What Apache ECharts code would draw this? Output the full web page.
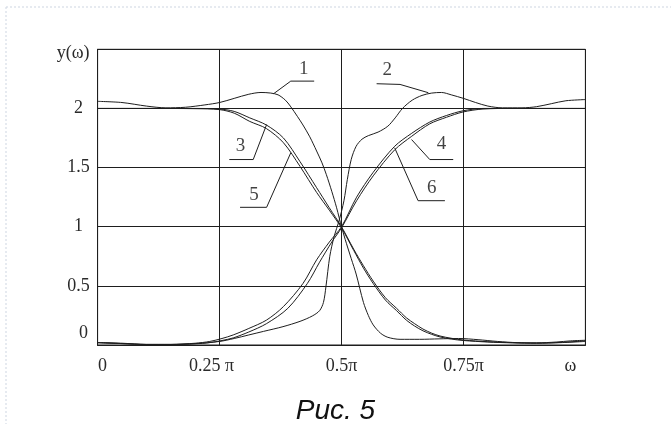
<!DOCTYPE html>
<html>
<head>
<meta charset="utf-8">
<script src="https://cdn.jsdelivr.net/npm/echarts@6/dist/echarts.min.js"></script>
<style>
html,body{margin:0;padding:0;background:#fff;}
#c{width:671px;height:424px;}
</style>
</head>
<body>
<div id="c"></div>
<script>
// x in units of pi, y = y(omega)
const xTickValues = [0, 0.25, 0.5, 0.75, 1];
const xTickLabels = ['0', '0.25 π', '0.5π', '0.75π', 'ω'];
const yTickValues = [0, 0.5, 1, 1.5, 2, 2.5];
const yTickLabels = ['0', '0.5', '1', '1.5', '2', ''];

const curve1 = [[0,2.06],[0.05,2.05],[0.1,2.02],[0.14,2.005],[0.18,2.01],[0.22,2.03],[0.25,2.05],[0.28,2.085],[0.31,2.12],[0.335,2.135],[0.355,2.13],[0.37,2.115],[0.385,2.07],[0.395,2.02],[0.41,1.93],[0.421,1.86],[0.435,1.76],[0.449,1.64],[0.46,1.54],[0.469,1.44],[0.48,1.3],[0.49,1.16],[0.5,1.0],[0.51,0.86],[0.52,0.73],[0.53,0.6],[0.545,0.36],[0.555,0.25],[0.565,0.17],[0.58,0.1],[0.595,0.065],[0.62,0.048],[0.66,0.048],[0.7,0.052],[0.74,0.055],[0.78,0.045],[0.82,0.03],[0.86,0.02],[0.9,0.018],[0.94,0.025],[0.97,0.035],[1,0.04]];
const curve2 = [[0,0.02],[0.05,0.015],[0.1,0.005],[0.15,0.005],[0.2,0.012],[0.25,0.03],[0.28,0.055],[0.31,0.085],[0.34,0.115],[0.38,0.155],[0.415,0.2],[0.44,0.245],[0.455,0.29],[0.463,0.36],[0.468,0.49],[0.476,0.75],[0.485,0.92],[0.495,1.05],[0.505,1.22],[0.512,1.4],[0.52,1.57],[0.53,1.68],[0.542,1.74],[0.555,1.77],[0.575,1.8],[0.595,1.85],[0.61,1.92],[0.625,2.0],[0.645,2.07],[0.665,2.11],[0.685,2.13],[0.705,2.135],[0.725,2.115],[0.75,2.085],[0.775,2.05],[0.8,2.02],[0.83,2.005],[0.87,2.005],[0.9,2.015],[0.93,2.04],[0.96,2.065],[1,2.075]];
const curve3 = [[0,2.0],[0.1,2.0],[0.2,2.0],[0.25,1.995],[0.28,1.975],[0.312,1.92],[0.346,1.86],[0.381,1.75],[0.415,1.55],[0.449,1.33],[0.475,1.16],[0.5,1.0],[0.525,0.81],[0.545,0.67],[0.565,0.54],[0.59,0.4],[0.613,0.31],[0.633,0.23],[0.65,0.18],[0.667,0.135],[0.685,0.1],[0.702,0.076],[0.725,0.057],[0.75,0.042],[0.8,0.028],[0.85,0.02],[0.9,0.016],[0.95,0.022],[1,0.035]];
const curve5 = [[0,2.0],[0.1,2.0],[0.2,1.998],[0.25,1.99],[0.28,1.96],[0.312,1.89],[0.346,1.83],[0.381,1.71],[0.415,1.51],[0.449,1.29],[0.475,1.14],[0.5,0.99],[0.525,0.8],[0.545,0.65],[0.565,0.52],[0.59,0.38],[0.613,0.29],[0.633,0.21],[0.65,0.16],[0.667,0.12],[0.685,0.09],[0.702,0.068],[0.725,0.05],[0.75,0.038],[0.8,0.025],[0.85,0.018],[0.9,0.015],[0.95,0.02],[1,0.03]];
const curve6 = [[0,0.02],[0.05,0.012],[0.1,0.005],[0.15,0.005],[0.2,0.015],[0.23,0.03],[0.255,0.055],[0.278,0.085],[0.31,0.14],[0.346,0.21],[0.381,0.325],[0.421,0.52],[0.449,0.72],[0.475,0.87],[0.5,1.0],[0.531,1.25],[0.565,1.46],[0.609,1.68],[0.644,1.79],[0.681,1.885],[0.715,1.94],[0.749,1.98],[0.79,2.0],[0.85,2.0],[0.9,2.0],[1,2.0]];
const curve4 = [[0,0.02],[0.05,0.012],[0.1,0.004],[0.15,0.004],[0.2,0.01],[0.23,0.02],[0.255,0.038],[0.278,0.06],[0.31,0.11],[0.346,0.18],[0.39,0.31],[0.43,0.52],[0.455,0.7],[0.48,0.87],[0.5,0.99],[0.531,1.22],[0.565,1.43],[0.609,1.65],[0.644,1.765],[0.681,1.87],[0.715,1.925],[0.749,1.97],[0.79,1.995],[0.85,2.0],[0.9,2.0],[1,2.0]];

const curveNames = ['1','2','3','4','5','6'];
const leader1 = [[0.361,2.125],[0.396,2.231],[0.444,2.231]];
const leader2 = [[0.678,2.133],[0.62,2.203],[0.572,2.209]];
const leader3 = [[0.3465,1.864],[0.319,1.568],[0.27,1.568]];
const leader4 = [[0.6436,1.737],[0.681,1.568],[0.729,1.568]];
const leader5 = [[0.396,1.625],[0.3465,1.164],[0.292,1.164]];
const leader6 = [[0.609,1.667],[0.657,1.22],[0.712,1.22]];
const labelPos = [[0.4225,2.33],[0.594,2.325],[0.293,1.68],[0.705,1.695],[0.3205,1.27],[0.685,1.328]];

const INK = '#1e1e1e';
const curves = [curve1, curve2, curve3, curve4, curve5, curve6];
const leaders = [leader1, leader2, leader3, leader4, leader5, leader6];

function findIdx(arr, v){ for (let i=0;i<arr.length;i++){ if (Math.abs(arr[i]-v)<1e-6) return i; } return -1; }

const series = [];
curves.forEach((c, i) => {
  series.push({type:'line', name:curveNames[i], data:c, smooth:0.3, showSymbol:false, symbol:'none',
    lineStyle:{color:INK, width:1}, silent:true, z:3});
});
leaders.forEach((l) => {
  series.push({type:'line', data:l, smooth:false, showSymbol:false, symbol:'none',
    lineStyle:{color:INK, width:1}, silent:true, z:3});
});
series.push({type:'scatter', symbolSize:0, silent:true,
  data: labelPos.map((p,i)=>({value:p, name:curveNames[i]})),
  label:{show:true, position:'inside', formatter:'{b}', color:'#111', fontFamily:'Liberation Serif', fontSize:19}});

const chart = echarts.init(document.getElementById('c'), null, {renderer:'canvas'});
chart.setOption({
  backgroundColor:'#ffffff',
  animation:false,
  title:{text:'Рис. 5', left:'center', top:392,
    textStyle:{fontFamily:'Liberation Sans', fontStyle:'italic', fontWeight:'normal', fontSize:28, color:'#111'}},
  grid:{left:97.6, right:85.6, top:49.3, bottom:79, show:true, borderColor:INK, borderWidth:1, backgroundColor:'transparent'},
  xAxis:{type:'value', min:0, max:1, interval:0.25,
    axisLine:{show:true, lineStyle:{color:INK, width:1}},
    axisTick:{show:false},
    splitLine:{show:true, lineStyle:{color:INK, width:1}},
    axisLabel:{show:true, margin:12, color:'#2a2a2a', fontFamily:'Liberation Serif', fontSize:18,
      formatter:function(v){ const i=findIdx(xTickValues,v); if(i<0) return ''; const t=xTickLabels[i];
        if(i===0) return '{a|'+t+'}'; if(i===1) return '{b|'+t+'}'; if(i===4) return '{c|'+t+'}'; return t; },
      rich:{a:{padding:[0,0,10,10]}, b:{padding:[0,16,0,0]}, c:{padding:[0,30,0,0]}}}
  },
  yAxis:{type:'value', min:0, max:2.5, interval:0.5,
    name:'y(ω)', nameLocation:'end', nameGap:-13,
    nameTextStyle:{align:'right', padding:[0,8,0,0], color:'#2a2a2a', fontFamily:'Liberation Serif', fontSize:18},
    axisLine:{show:true, lineStyle:{color:INK, width:1}},
    axisTick:{show:false},
    splitLine:{show:true, lineStyle:{color:INK, width:1}},
    axisLabel:{show:true, align:'center', margin:19, color:'#2a2a2a', fontFamily:'Liberation Serif', fontSize:18,
      formatter:function(v){ const i=findIdx(yTickValues,v); if(i<0) return ''; const t=yTickLabels[i];
        if(i===0) return '{z|'+t+'}'; return t; },
      rich:{z:{padding:[0,0,24,10]}}}
  },
  graphic:[
    {type:'line', shape:{x1:6, y1:7, x2:671, y2:7}, style:{stroke:'#cdd6e2', lineWidth:1, lineDash:[2,2]}},
    {type:'line', shape:{x1:6, y1:7, x2:6, y2:424}, style:{stroke:'#cdd6e2', lineWidth:1, lineDash:[2,2]}}
  ],
  series: series
});
</script>
</body>
</html>
